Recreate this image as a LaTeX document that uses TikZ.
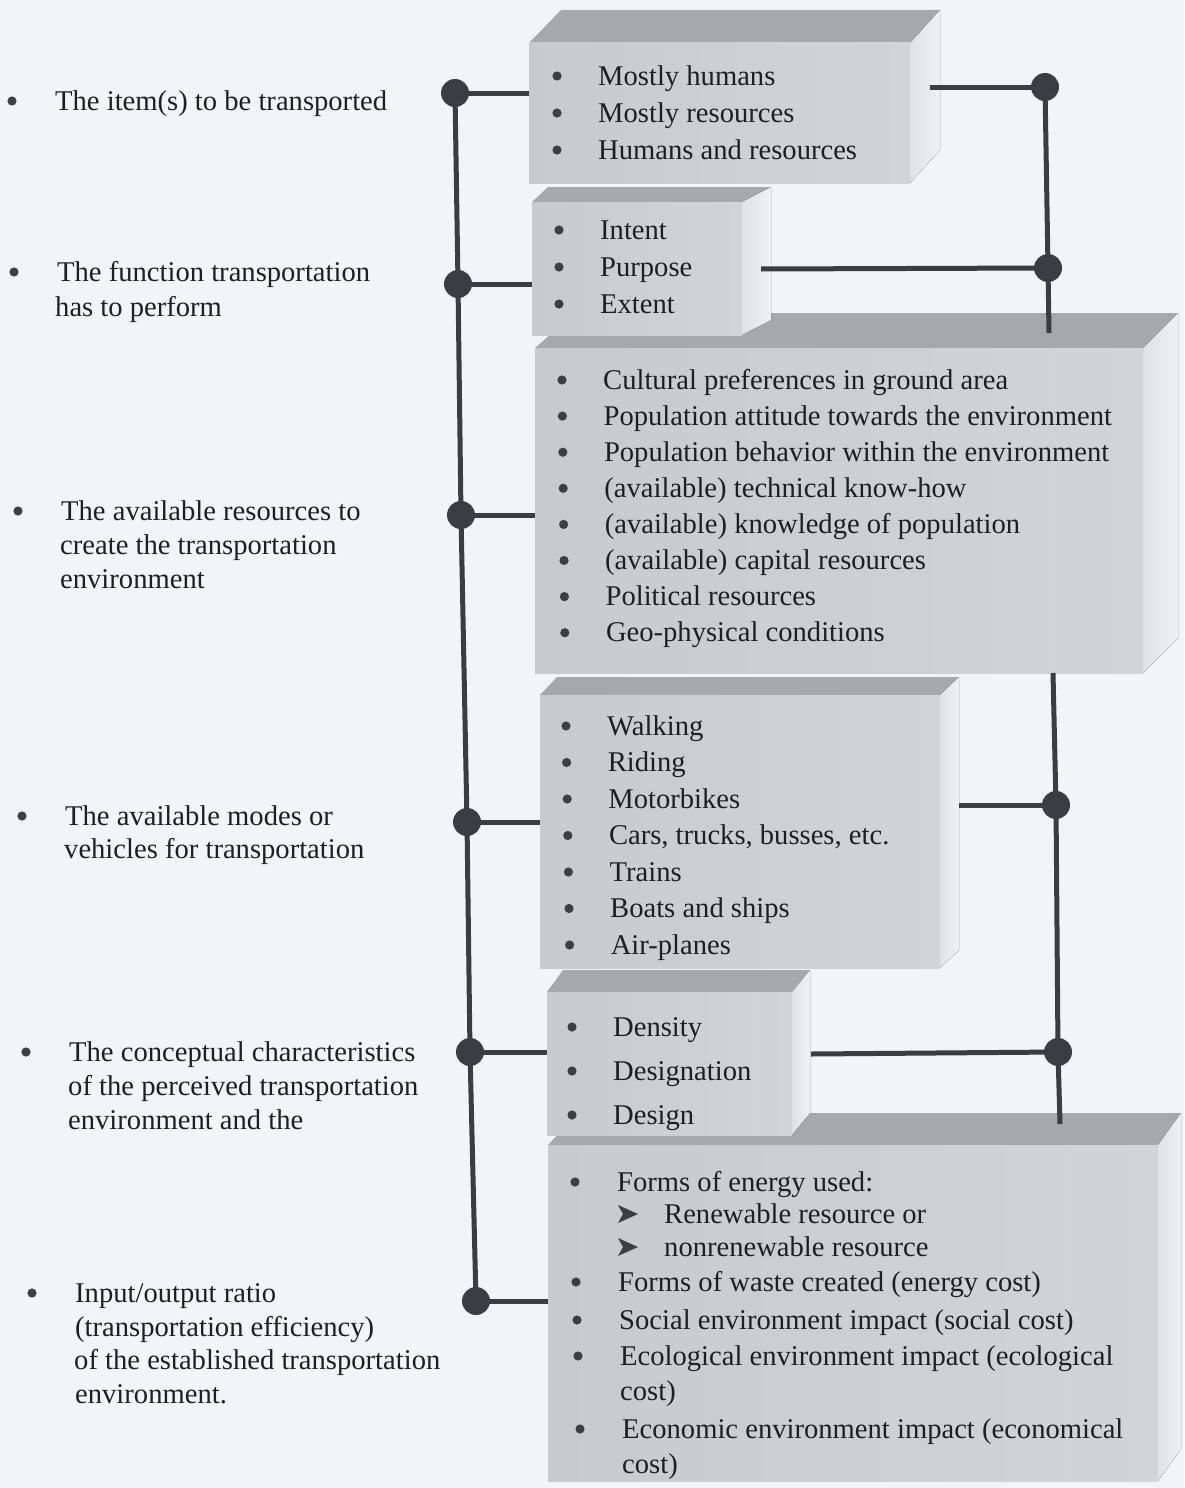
\documentclass[tikz,border=0pt]{standalone}
\usepackage{fontspec}
\setmainfont{Liberation Serif}
\usetikzlibrary{calc}

\definecolor{paper}{HTML}{F3F4F7}
\definecolor{ink}{HTML}{1F1F22}
\definecolor{wire}{HTML}{3A3D42}
\definecolor{facefront}{HTML}{C8CACE}
\definecolor{facefrontb}{HTML}{D2D4D8}
\definecolor{facetop}{HTML}{A7A8AC}
\definecolor{faceside}{HTML}{E0E2E6}
\definecolor{facesideb}{HTML}{EFF1F4}

\tikzset{
  txt/.style={anchor=base west, inner sep=0pt, text=ink,
    font=\fontsize{28.6}{34}\selectfont},
  wireline/.style={draw=wire, line width=5pt},
  joint/.style={circle, fill=wire, minimum size=28pt, inner sep=0pt},
  frontface/.style={rectangle, inner sep=0pt, draw=none,
    left color=facefront, right color=facefrontb},
  dotc/.style={fill=ink!85!paper},
}

% bullet dot hanging left of a text line: \dotat{node}{distance from text start}
\newcommand\dotat[2]{\fill[dotc] ([xshift=-#2pt,yshift=9pt]#1.base west) circle[radius=4.6pt];}
% arrowhead mark for sub-items
\newcommand\arrowat[1]{\fill[dotc, shift={([xshift=-36pt,yshift=9pt]#1.base west)}]
  (10,0) -- (-10,-9) -- (-5,0) -- (-10,9) -- cycle;}

% \prism{name}{x0}{y0}{x1}{y1}{dx left}{dx right}{dy}: extruded block
\newcommand\prism[8]{%
  \fill[facetop] (#2,#3) -- ({#2+#6},{#3+#8}) -- ({#4+#7},{#3+#8}) -- (#4,#3) -- cycle;
  \fill[left color=faceside, right color=facesideb]
    (#4,#3) -- ({#4+#7},{#3+#8}) -- ({#4+#7},{#5+#8}) -- (#4,#5) -- cycle;
  \node[frontface, minimum width={#4-#2}, minimum height={#5-#3}]
    (#1) at ({(#2+#4)/2},{(#3+#5)/2}) {};
}

\begin{document}
\begin{tikzpicture}[x=1pt,y=-1pt]
\fill[paper] (0,0) rectangle (1184,1488);
\useasboundingbox (0,0) rectangle (1184,1488);

% blocks, lowest first so upper ones overlap the top faces below
\prism{b6}{548}{1145}{1158}{1481}{30}{23}{-32}
\prism{b5}{547}{992}{792}{1135}{16}{18}{-22}
\prism{b4}{540}{695}{940}{968}{17}{19}{-18}
\prism{b3}{535}{348}{1143}{673}{40}{35}{-35}
\prism{b2}{532}{202}{742}{335}{16}{29}{-15}
\prism{b1}{529}{43}{910}{183}{32}{30}{-33}

% left column of criteria
\node[txt] (l1)  at (55,110)  {The item(s) to be transported};
\node[txt] (l2a) at (57,281)  {The function transportation};
\node[txt] (l2b) at (55,316)  {has to perform};
\node[txt] (l3a) at (61,520)  {The available resources to};
\node[txt] (l3b) at (60,554)  {create the transportation};
\node[txt] (l3c) at (60,588)  {environment};
\node[txt] (l4a) at (65,825)  {The available modes or};
\node[txt] (l4b) at (64,858)  {vehicles for transportation};
\node[txt] (l5a) at (69,1061) {The conceptual characteristics};
\node[txt] (l5b) at (68,1095) {of the perceived transportation};
\node[txt] (l5c) at (68,1129) {environment and the};
\node[txt] (l6a) at (75,1302) {Input/output ratio};
\node[txt] (l6b) at (75,1336) {(transportation efficiency)};
\node[txt] (l6c) at (74,1369) {of the established transportation};
\node[txt] (l6d) at (75,1403) {environment.};
\foreach \n in {l1,l2a,l3a,l4a,l5a,l6a} {\dotat{\n}{43}}

% block contents
\foreach \t [count=\i] in {Mostly humans, Mostly resources, Humans and resources}
  {\node[txt] (t1-\i) at (598,{85+(\i-1)*37}) {\t}; \dotat{t1-\i}{41}}
\foreach \t [count=\i] in {Intent, Purpose, Extent}
  {\node[txt] (t2-\i) at (600,{239+(\i-1)*37}) {\t}; \dotat{t2-\i}{41}}
\foreach \t [count=\i] in {Cultural preferences in ground area,
    Population attitude towards the environment,
    Population behavior within the environment,
    {(available) technical know-how},
    {(available) knowledge of population},
    {(available) capital resources},
    Political resources, Geo-physical conditions}
  {\node[txt] (t3-\i) at ({603+(\i-1)*0.4},{389+(\i-1)*36.1}) {\t}; \dotat{t3-\i}{41}}
\foreach \t [count=\i] in {Walking, Riding, Motorbikes, {Cars, trucks, busses, etc.},
    Trains, Boats and ships, Air-planes}
  {\node[txt] (t4-\i) at ({607+(\i-1)*0.6},{735+(\i-1)*36.5}) {\t}; \dotat{t4-\i}{41}}
\foreach \t [count=\i] in {Density, Designation, Design}
  {\node[txt] (t5-\i) at (613,{1036+(\i-1)*44}) {\t}; \dotat{t5-\i}{41}}

\node[txt] (t6-1) at (617,1191) {Forms of energy used:};
\node[txt] (t6-2) at (664,1223) {Renewable resource or};
\node[txt] (t6-3) at (664,1256) {nonrenewable resource};
\node[txt] (t6-4) at (618,1291) {Forms of waste created (energy cost)};
\node[txt] (t6-5) at (619,1329) {Social environment impact (social cost)};
\node[txt] (t6-6) at (620,1365) {Ecological environment impact (ecological};
\node[txt] (t6-7) at (620,1400) {cost)};
\node[txt] (t6-8) at (622,1438) {Economic environment impact (economical};
\node[txt] (t6-9) at (622,1473) {cost)};
\foreach \n in {t6-1,t6-4,t6-5,t6-6,t6-8} {\dotat{\n}{42}}
\foreach \n in {t6-2,t6-3} {\arrowat{\n}}

% left spine with its joints
\node[joint] (dL1) at (455,93) {};
\node[joint] (dL2) at (458,284) {};
\node[joint] (dL3) at (461,515) {};
\node[joint] (dL4) at (467,822) {};
\node[joint] (dL5) at (470,1052) {};
\node[joint] (dL6) at (476,1301) {};
\draw[wireline] (dL1.center) -- (dL2.center) -- (dL3.center) -- (dL4.center)
  -- (dL5.center) -- (dL6.center);
\foreach \k in {1,...,6}
  {\draw[wireline] (dL\k.center) -- (dL\k.center -| b\k.west);}

% right spine with its joints
\node[joint] (dR1) at (1045,87) {};
\node[joint] (dR2) at (1048,268) {};
\node[joint] (dR3) at (1056,805) {};
\node[joint] (dR4) at (1058,1052) {};
\coordinate (e1) at (930,87);
\coordinate (e2) at (761,269);
\coordinate (e3) at (959,805);
\coordinate (e4) at (811,1054);
\coordinate (top3) at (1049,333);
\coordinate (bot3) at (1053,673);
\coordinate (top6) at (1060,1124);
\draw[wireline] (dR1.center) -- (dR2.center) -- (top3);
\draw[wireline] (bot3) -- (dR3.center) -- (dR4.center) -- (top6);
\foreach \k in {1,...,4}
  {\draw[wireline] (e\k) -- (dR\k.center);}
\end{tikzpicture}
\end{document}
